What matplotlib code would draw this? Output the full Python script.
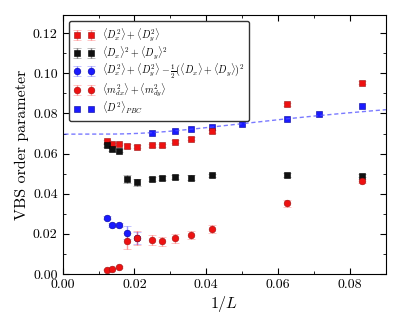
import numpy as np
import matplotlib
matplotlib.use("Agg")
import matplotlib.pyplot as plt
from matplotlib.ticker import MultipleLocator

plt.rcParams['font.family'] = 'serif'
plt.rcParams['font.serif'] = ['cmr10']
plt.rcParams['mathtext.fontset'] = 'cm'
plt.rcParams['axes.formatter.use_mathtext'] = True

# system sizes L, x axis is 1/L
L_open = [80, 72, 64, 56, 48, 40, 36, 32, 28, 24, 16, 12]
L_pbc = [40, 32, 28, 24, 20, 16, 14, 12]
L_diff = [80, 72, 64, 56, 48]

# <Dx^2> + <Dy^2>
d2_sum = [0.0662, 0.0646, 0.0648, 0.0638, 0.0634, 0.0642, 0.0642, 0.0660, 0.0674, 0.0712, 0.0845, 0.0953]
d2_sum_err = [0.0008, 0.0008, 0.0007, 0.0008, 0.0008, 0.0007, 0.0007, 0.0007, 0.0007, 0.0008, 0.0008, 0.0007]

# <Dx>^2 + <Dy>^2
d_sq = [0.0642, 0.0622, 0.0614, 0.0472, 0.0457, 0.0475, 0.0480, 0.0485, 0.0481, 0.0491, 0.0493, 0.0490]
d_sq_err = [0.0008, 0.0008, 0.0008, 0.0020, 0.0017, 0.0010, 0.0010, 0.0010, 0.0010, 0.0009, 0.0008, 0.0008]

# difference (blue circles), only large L
d_diff = [0.0280, 0.0242, 0.0242, 0.0206, 0.0181]
d_diff_err = [0.0008, 0.0010, 0.0010, 0.0033, 0.0030]

# <m_dx^2> + <m_dy^2>
m2 = [0.0022, 0.0027, 0.0035, 0.0166, 0.0179, 0.0169, 0.0164, 0.0178, 0.0193, 0.0224, 0.0352, 0.0464]
m2_err = [0.0003, 0.0003, 0.0004, 0.0041, 0.0033, 0.0025, 0.0022, 0.0022, 0.0020, 0.0020, 0.0017, 0.0012]

# <D^2>_PBC
d2_pbc = [0.0702, 0.0712, 0.0724, 0.0732, 0.0747, 0.0774, 0.0798, 0.0835]

# fit a + b*exp(-L/xi) to the PBC data
fit_a = 0.0697
fit_b = 0.0351
fit_xi = 10.5


def inv(Ls):
    return 1.0 / np.array(Ls, dtype=float)


fig, ax = plt.subplots(figsize=(4.09, 3.15), dpi=100)
fig.subplots_adjust(left=0.153, right=0.9435, bottom=0.130, top=0.952)

h1 = ax.errorbar(inv(L_open), d2_sum, yerr=d2_sum_err, fmt='s', color='#ee1111', mec='#991111', mew=0.4,
                 ms=4.8, ecolor=(1, 0.2, 0.2, 0.5), capsize=3, elinewidth=1,
                 label=r'$\langle D_x^2\rangle+\langle D_y^2\rangle$')
h2 = ax.errorbar(inv(L_open), d_sq, yerr=d_sq_err, fmt='s', color='#111111', mec='k', mew=0.4,
                 ms=4.8, ecolor=(0, 0, 0, 0.45), capsize=3, elinewidth=1,
                 label=r'$\langle D_x\rangle^2+\langle D_y\rangle^2$')
h3 = ax.errorbar(inv(L_diff), d_diff, yerr=d_diff_err, fmt='o', color='#1a1aff', mec='#000099', mew=0.4,
                 ms=4.8, ecolor=(0.2, 0.2, 1, 0.5), capsize=3, elinewidth=1,
                 label=r'$\langle D_x^2\rangle+\langle D_y^2\rangle-\frac{1}{2}(\langle D_x\rangle+\langle D_y\rangle)^2$')
h4 = ax.errorbar(inv(L_open), m2, yerr=m2_err, fmt='o', color='#ee1111', mec='#991111', mew=0.4,
                 ms=4.8, ecolor=(1, 0.2, 0.2, 0.5), capsize=3, elinewidth=1,
                 label=r'$\langle m_{dx}^2\rangle+\langle m_{dy}^2\rangle$')
h5, = ax.plot(inv(L_pbc), d2_pbc, 's', color='#1a1aff', mec='#000099', mew=0.4, ms=4.8,
              label=r'$\langle D^2\rangle_{PBC}$')

xf = np.linspace(0.0005, 0.09, 300)
yf = fit_a + fit_b * np.exp(-1.0 / (xf * fit_xi))
ax.plot(xf, yf, '--', color=(0.3, 0.3, 1, 0.75), lw=1, dashes=(3, 2))

ax.set_xlim(0, 0.09)
ax.set_ylim(0, 0.129)
ax.xaxis.set_major_locator(MultipleLocator(0.02))
ax.xaxis.set_minor_locator(MultipleLocator(0.01))
ax.yaxis.set_major_locator(MultipleLocator(0.02))
ax.yaxis.set_minor_locator(MultipleLocator(0.01))
ax.tick_params(which='both', direction='in', top=True, right=True, labelsize=10)
ax.tick_params(which='major', length=4)
ax.tick_params(which='minor', length=2)
ax.xaxis.set_major_formatter(plt.FormatStrFormatter('%.2f'))
ax.yaxis.set_major_formatter(plt.FormatStrFormatter('%.2f'))

ax.set_xlabel(r'$1/L$', fontsize=11.5, labelpad=2)
ax.set_ylabel('VBS order parameter', fontsize=11.5, labelpad=3)

leg = ax.legend(handles=[h1, h2, h3, h4, h5], loc='upper left', numpoints=2, fontsize=7.2,
                borderaxespad=0.6, handletextpad=0.8, labelspacing=0.08, handlelength=2.0,
                borderpad=0.5, framealpha=1)
leg.get_frame().set_edgecolor('0.2')

plt.savefig('out.png', dpi=100)
